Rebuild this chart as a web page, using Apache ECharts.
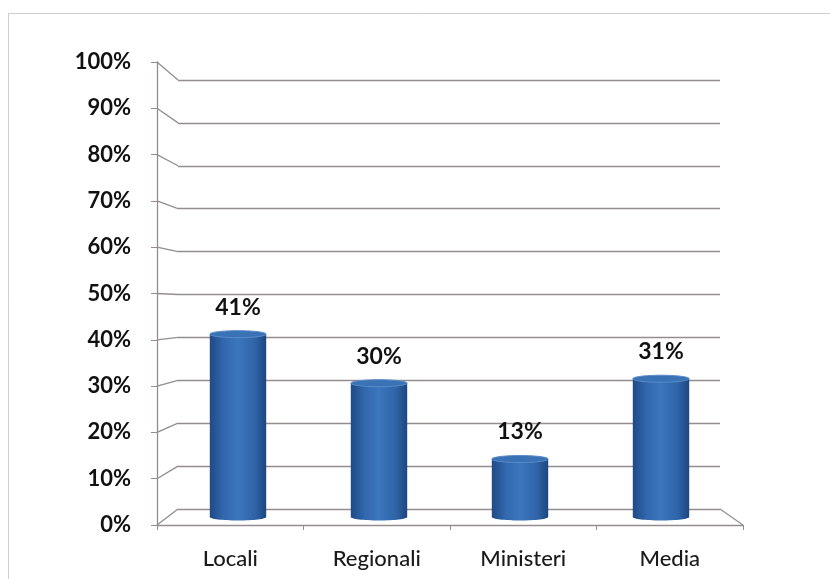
<!DOCTYPE html>
<html><head><meta charset="utf-8">
<script src="https://cdn.jsdelivr.net/npm/echarts@6/dist/echarts.min.js"></script>
<style>html,body{margin:0;padding:0;background:#fff}#c{width:830px;height:579px}</style>
</head><body><div id="c"></div>
<script>
const categories = ['Locali', 'Regionali', 'Ministeri', 'Media'];
const values = [41, 30, 13, 31];
const yMin = 0, yMax = 100, yStep = 10;
const tickValues = [0, 10, 20, 30, 40, 50, 60, 70, 80, 90, 100];

const FONT = 'Lato, "Open Sans", sans-serif';
const LINE = '#958c8c';

const chart = echarts.init(document.getElementById('c'), null, {renderer: 'canvas'});

const yBase = {type: 'value', min: yMin, max: yMax, interval: yStep};

chart.setOption({
  backgroundColor: '#ffffff',
  animation: false,
  grid: [
    {left: 157, right: 87, top: 62, bottom: 54},      // front plane
    {left: 167.5, right: 98.5, top: 71, bottom: 62},  // middle plane (bars)
    {left: 178, right: 110, top: 80, bottom: 70}      // back wall
  ],
  xAxis: [
    {type: 'category', gridIndex: 0, data: categories,
     axisLine: {show: true, lineStyle: {color: LINE, width: 1.3}},
     axisTick: {show: true, length: 5, lineStyle: {color: LINE}},
     axisLabel: {color: '#1a1a1a', fontFamily: FONT, fontWeight: 500, fontSize: 22, margin: 23}},
    {type: 'category', gridIndex: 1, data: categories, show: false},
    {type: 'category', gridIndex: 2, data: categories, show: false}
  ],
  yAxis: [
    Object.assign({}, yBase, {gridIndex: 0,
      axisLine: {show: true, lineStyle: {color: LINE, width: 1.3}},
      axisTick: {show: true, length: 6, lineStyle: {color: LINE}},
      splitLine: {show: false},
      axisLabel: {formatter: '{value}%', color: '#111', fontFamily: FONT, fontWeight: 'bold', fontSize: 22, margin: 26}}),
    Object.assign({}, yBase, {gridIndex: 1, show: false, splitLine: {show: false}}),
    Object.assign({}, yBase, {gridIndex: 2,
      axisLine: {show: false}, axisTick: {show: false}, axisLabel: {show: false},
      splitLine: {show: true, lineStyle: {color: LINE, width: 1.3}}})
  ],
  series: [{
    type: 'custom',
    xAxisIndex: 1, yAxisIndex: 1,
    data: values.map((v, i) => [i, v]),
    renderItem: function (params, api) {
      const v = api.value(1);
      const top = api.coord([api.value(0), v]);
      const bot = api.coord([api.value(0), 0]);
      const w = api.size([1, 0])[0] * 0.4;
      const cx = top[0];
      const ry = 3.5;
      const grad = new echarts.graphic.LinearGradient(0, 0, 1, 0, [
        {offset: 0, color: '#1f4a86'},
        {offset: 0.25, color: '#3268ad'},
        {offset: 0.5, color: '#3c76bd'},
        {offset: 0.8, color: '#2f64a8'},
        {offset: 1, color: '#1d4680'}
      ]);
      return {
        type: 'group',
        children: [
          {type: 'ellipse', shape: {cx: cx, cy: bot[1], rx: w / 2, ry: ry}, style: {fill: grad}},
          {type: 'rect', shape: {x: cx - w / 2, y: top[1], width: w, height: bot[1] - top[1]}, style: {fill: grad}},
          {type: 'ellipse', shape: {cx: cx, cy: top[1], rx: w / 2, ry: ry},
           style: {fill: '#3a72b6', stroke: '#5a8cc8', lineWidth: 1}},
          {type: 'text', style: {text: v + '%', x: cx, y: top[1] - 27, align: 'center', verticalAlign: 'middle',
            fill: '#111', font: 'bold 23px ' + FONT}}
        ]
      };
    }
  }]
});

// perspective connectors between the front axis and the back wall
const g = [];
tickValues.forEach(function (t) {
  const f = chart.convertToPixel({xAxisIndex: 0, yAxisIndex: 0}, [0, t]);
  const b = chart.convertToPixel({xAxisIndex: 2, yAxisIndex: 2}, [0, t]);
  g.push({type: 'line', shape: {x1: 157, y1: f[1], x2: 178, y2: b[1]},
    style: {stroke: LINE, lineWidth: 1.3}, silent: true, z: 1});
});
// right floor edge
const bR = chart.convertToPixel({xAxisIndex: 2, yAxisIndex: 2}, [0, 0]);
const fR = chart.convertToPixel({xAxisIndex: 0, yAxisIndex: 0}, [0, 0]);
g.push({type: 'line', shape: {x1: 720, y1: bR[1], x2: 743, y2: fR[1]},
  style: {stroke: LINE, lineWidth: 1.3}, silent: true, z: 1});
// outer frame
g.push({type: 'rect', shape: {x: 8.5, y: 13.5, width: 900, height: 700},
  style: {fill: 'none', stroke: '#cfcfcf', lineWidth: 1}, silent: true, z: 0});
chart.setOption({graphic: g});
</script></body></html>
